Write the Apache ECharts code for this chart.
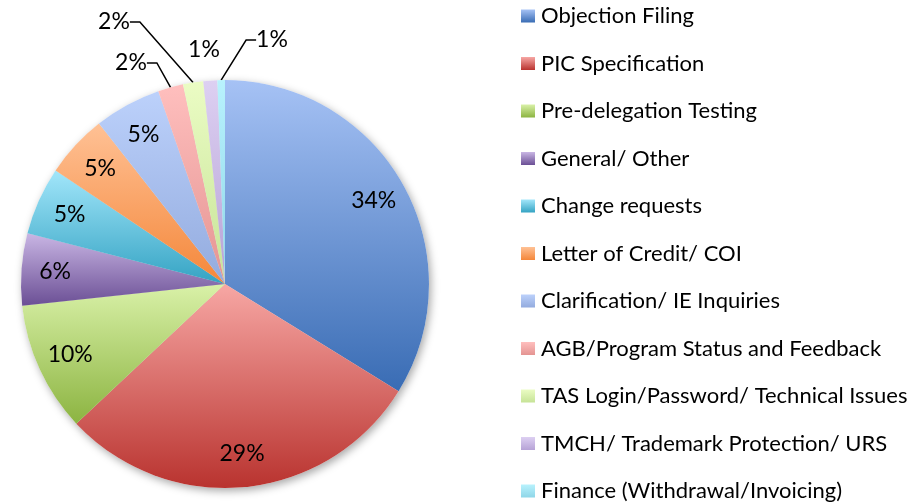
<!DOCTYPE html>
<html>
<head>
<meta charset="utf-8">
<script src="https://cdn.jsdelivr.net/npm/echarts@6/dist/echarts.min.js"></script>
<style>
	html, body { margin: 0; padding: 0; background: #fff; }
	#chart { width: 920px; height: 504px; }
</style>
</head>
<body>
<div id="chart"></div>
<script>
// categories, clockwise from 12 o'clock
const categories = [
	"Objection Filing",
	"PIC Specification",
	"Pre-delegation Testing",
	"General/ Other",
	"Change requests",
	"Letter of Credit/ COI",
	"Clarification/ IE Inquiries",
	"AGB/Program Status and Feedback",
	"TAS Login/Password/ Technical Issues",
	"TMCH/ Trademark Protection/ URS",
	"Finance (Withdrawal/Invoicing)",
];
// share of tickets, percent
const shares = [33.8, 29.2, 10.3, 5.7, 5.4, 5.0, 5.3, 2.0, 1.6, 1.1, 0.6];

// slice gradients, top -> bottom
const topColors = ["#a6c2f5", "#f7a7a4", "#d9f1a8", "#c9b6e4", "#a2e6fa", "#ffc195", "#bcd1fb", "#ffbfbe", "#ebfcc4", "#ddd0f2", "#b8f2fd"];
const bottomColors = ["#396cb4", "#b9332f", "#8cb441", "#6b4f95", "#34a3c3", "#f4873a", "#93abde", "#e49492", "#c6e397", "#b6a2d6", "#8fd6e8"];

// small slices: labels sit above the pie, most with a leader line
const outsideLabels = {
	7: { at: [131, 63], line: true },
	8: { at: [114, 22], line: true },
	9: { at: [204, 50], line: false },
	10: { at: [272, 40], line: true },
};

const FONT = "Lato, 'Open Sans', sans-serif";
const CENTER = [225, 284];
const R = 204;

const grad = (a, b) => ({
	type: "linear", x: 0, y: 0, x2: 0, y2: 1,
	colorStops: [{ offset: 0, color: a }, { offset: 1, color: b }],
});

const pct = p => Math.round(p.percent) + "%";

const mainData = categories.map((name, i) => {
	const o = outsideLabels[i];
	return {
		name,
		value: shares[i],
		itemStyle: { color: grad(topColors[i], bottomColors[i]) },
		label: { show: !!o },
		labelLine: { show: !!(o && o.line) },
	};
});

const labelData = categories.map((name, i) => ({
	name,
	value: shares[i],
	label: { show: !outsideLabels[i] },
}));

const chart = echarts.init(document.getElementById("chart"), null, { renderer: "canvas" });
chart.setOption({
	animation: false,
	legend: {
		orient: "vertical",
		left: 521,
		top: 4,
		height: 500,
		padding: 0,
		itemWidth: 14,
		itemHeight: 13,
		itemGap: 23.5,
		icon: "rect",
		textStyle: { fontFamily: FONT, fontSize: 22, color: "#000", lineHeight: 24, padding: [0, 0, 0, 1] },
		data: categories,
	},
	series: [
		{
			type: "pie",
			center: CENTER,
			radius: R,
			startAngle: 90,
			clockwise: true,
			z: 3,
			label: { position: "outside", fontFamily: FONT, fontSize: 23, color: "#000", overflow: "none", formatter: pct },
			labelLine: { length: 15, length2: 10, lineStyle: { color: "#000", width: 1.5 } },
			labelLayout: params => {
				const o = outsideLabels[params.dataIndex];
				if (!o) return {};
				return { x: o.at[0], y: o.at[1], align: "center", verticalAlign: "middle" };
			},
			itemStyle: { borderWidth: 0 },
			emphasis: { disabled: true },
			data: mainData,
		},
		{
			// soft drop shadow under the pie
			type: "pie",
			center: CENTER,
			radius: R,
			startAngle: 90,
			silent: true,
			z: 1,
			label: { show: false },
			labelLine: { show: false },
			itemStyle: { color: "#fff", shadowBlur: 8, shadowColor: "rgba(0,0,0,0.35)", shadowOffsetX: 2, shadowOffsetY: 3 },
			data: categories.map((name, i) => ({ name, value: shares[i] })),
		},
		{
			// transparent ring that carries the inside labels at ~0.83R
			type: "pie",
			center: CENTER,
			radius: [R * 0.64, R],
			startAngle: 90,
			silent: true,
			z: 4,
			itemStyle: { color: "rgba(0,0,0,0)" },
			label: { position: "inside", fontFamily: FONT, fontSize: 23, color: "#000", formatter: pct },
			labelLine: { show: false },
			data: labelData,
		},
	],
});
</script>
</body>
</html>
